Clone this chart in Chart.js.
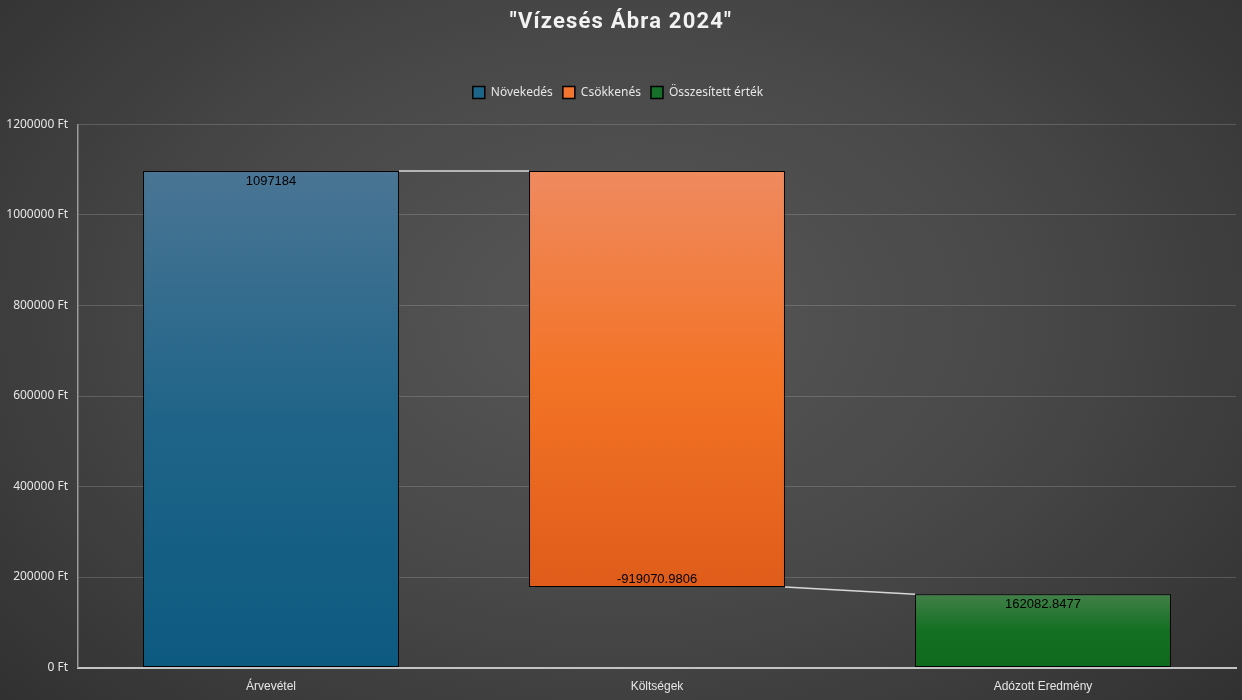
<!DOCTYPE html>
<html>
<head>
<meta charset="utf-8">
<script src="https://cdn.jsdelivr.net/npm/chart.js@4"></script>
<style>
  html, body { margin: 0; padding: 0; }
  body {
    width: 1242px; height: 700px; overflow: hidden;
    background: radial-gradient(ellipse 75% 90% at 50% 45%, #575757 0%, #484848 45%, #2c2c2c 100%);
  }
</style>
</head>
<body>
<canvas id="chart" width="1242" height="700"></canvas>
<script>
var categories = ["Árvevétel", "Költségek", "Adózott Eredmény"];
var legendLabels = ["Növekedés", "Csökkenés", "Összesített érték"];
var legendColors = ["#1d6489", "#f27530", "#17702a"];
var changes = [1097184, -919070.9806, 162082.8477];   // last one is the total
var yTicks = [0, 200000, 400000, 600000, 800000, 1000000, 1200000];
var titleText = '"Vízesés Ábra 2024"';

// build floating bars: [low, high]
var running = 0;
var floats = [];
var levels = [];   // [start level, end level] per step
for (var i = 0; i < changes.length; i++) {
    if (i == changes.length - 1) {
        floats.push([0, changes[i]]);
        levels.push([changes[i], changes[i]]);
    } else {
        var next = running + changes[i];
        floats.push([Math.min(running, next), Math.max(running, next)]);
        levels.push([running, next]);
        running = next;
    }
}

var incData = [floats[0], null, null];
var decData = [null, floats[1], null];
var totData = [null, null, floats[2]];

function grad(top, bottom) {
    return function(ctx) {
        var chart = ctx.chart;
        if (!chart.chartArea || ctx.raw == null) return top[0];
        var y = chart.scales.y;
        var y0 = y.getPixelForValue(ctx.raw[1]);
        var y1 = y.getPixelForValue(ctx.raw[0]);
        var g = chart.ctx.createLinearGradient(0, y0, 0, y1);
        g.addColorStop(0, top[0]);
        g.addColorStop(0.5, top[1]);
        g.addColorStop(1, bottom);
        return g;
    };
}

var valueLabels = {
    id: 'valueLabels',
    afterDatasetsDraw: function(chart) {
        var c = chart.ctx;
        c.save();
        c.font = '13px "Liberation Sans Narrow", "Liberation Sans", Arial';
        c.fillStyle = '#000';
        c.textAlign = 'center';
        c.textBaseline = 'middle';
        chart.data.datasets.forEach(function(ds, di) {
            var meta = chart.getDatasetMeta(di);
            ds.data.forEach(function(v, i) {
                if (v == null) return;
                var bar = meta.data[i];
                var top = Math.min(bar.y, bar.base), bot = Math.max(bar.y, bar.base);
                var txt = String(changes[i]);
                if (changes[i] < 0) c.fillText(txt, bar.x, bot - 8);
                else c.fillText(txt, bar.x, top + 10);
            });
        });
        c.restore();
    }
};

var connectors = {
    id: 'connectors',
    afterDatasetsDraw: function(chart) {
        var c = chart.ctx;
        var y = chart.scales.y;
        var bars = [];
        chart.data.datasets.forEach(function(ds, di) {
            var meta = chart.getDatasetMeta(di);
            ds.data.forEach(function(v, i) { if (v != null) bars[i] = meta.data[i]; });
        });
        c.save();
        c.strokeStyle = '#d8d8d8';
        c.lineWidth = 1.5;
        for (var i = 0; i < bars.length - 1; i++) {
            var a = bars[i], b = bars[i + 1];
            var nextStart = (i + 1 == changes.length - 1) ? changes[i + 1] : levels[i + 1][0];
            c.beginPath();
            c.moveTo(a.x + a.width / 2, y.getPixelForValue(levels[i][1]));
            c.lineTo(b.x - b.width / 2, y.getPixelForValue(nextStart));
            c.stroke();
        }
        c.restore();
    }
};

// title with letter spacing (built-in title kept only for layout)
var spacedTitle = {
    id: 'spacedTitle',
    afterDraw: function(chart) {
        var c = chart.ctx;
        c.save();
        c.letterSpacing = '1.2px';
        c.font = 'bold 22px Roboto';
        c.fillStyle = '#f2f2f2';
        c.textAlign = 'center';
        c.textBaseline = 'middle';
        c.fillText(titleText, chart.width / 2, 22);
        c.restore();
    }
};

// extra room under the legend
var legendGap = {
    id: 'legendGap',
    beforeInit: function(chart) {
        var fit = chart.legend.fit;
        chart.legend.fit = function() {
            fit.call(this);
            this.height += 16;
        };
    }
};

var common = { borderColor: '#000', borderWidth: 1, borderSkipped: false, categoryPercentage: 1, barPercentage: 0.663 };

var chart = new Chart('chart', {
    type: 'bar',
    plugins: [connectors, valueLabels, spacedTitle, legendGap],
    data: {
        labels: categories,
        datasets: [
            Object.assign({ label: legendLabels[0], data: incData, backgroundColor: grad(['#4a7594', '#1f6488'], '#0d5a80') }, common),
            Object.assign({ label: legendLabels[1], data: decData, backgroundColor: grad(['#ef8a5f', '#f37326'], '#df5c1a') }, common),
            Object.assign({ label: legendLabels[2], data: totData, backgroundColor: grad(['#428049', '#136f22'], '#106a1e') }, common)
        ]
    },
    options: {
        responsive: false,
        animation: false,
        grouped: false,
        layout: { padding: { left: 0, right: 6, top: 10, bottom: 2 } },
        plugins: {
            title: {
                display: true,
                text: titleText,
                color: 'rgba(0,0,0,0)',
                font: { family: 'Roboto', size: 22, weight: 'bold' },
                padding: { top: 0, bottom: 40 }
            },
            legend: {
                labels: {
                    color: '#e6e6e6',
                    font: { family: '"Noto Sans", "DejaVu Sans"', size: 12 },
                    boxWidth: 12, boxHeight: 12,
                    padding: 10,
                    generateLabels: function(chart) {
                        return legendLabels.map(function(t, i) {
                            return { text: t, fillStyle: legendColors[i], strokeStyle: '#000', lineWidth: 1.5, fontColor: '#e6e6e6', datasetIndex: i };
                        });
                    }
                }
            },
            tooltip: { enabled: false }
        },
        scales: {
            x: {
                grid: { display: false },
                border: { color: '#c4c4c4', width: 2 },
                ticks: { color: '#e6e6e6', font: { family: '"Liberation Sans Narrow", "Liberation Sans"', size: 12 }, padding: 4 }
            },
            y: {
                min: 0,
                max: yTicks[yTicks.length - 1],
                afterBuildTicks: function(axis) { axis.ticks = yTicks.map(function(v) { return { value: v }; }); },
                afterFit: function(axis) { axis.width = 78; },
                grid: { color: 'rgba(255,255,255,0.16)', drawTicks: false },
                border: { color: '#9a9a9a', width: 1.5 },
                ticks: {
                    color: '#e6e6e6',
                    font: { family: '"Noto Sans", "DejaVu Sans"', size: 12 },
                    padding: 10,
                    callback: function(v) { return v + ' Ft'; }
                }
            }
        }
    }
});
</script>
</body>
</html>
